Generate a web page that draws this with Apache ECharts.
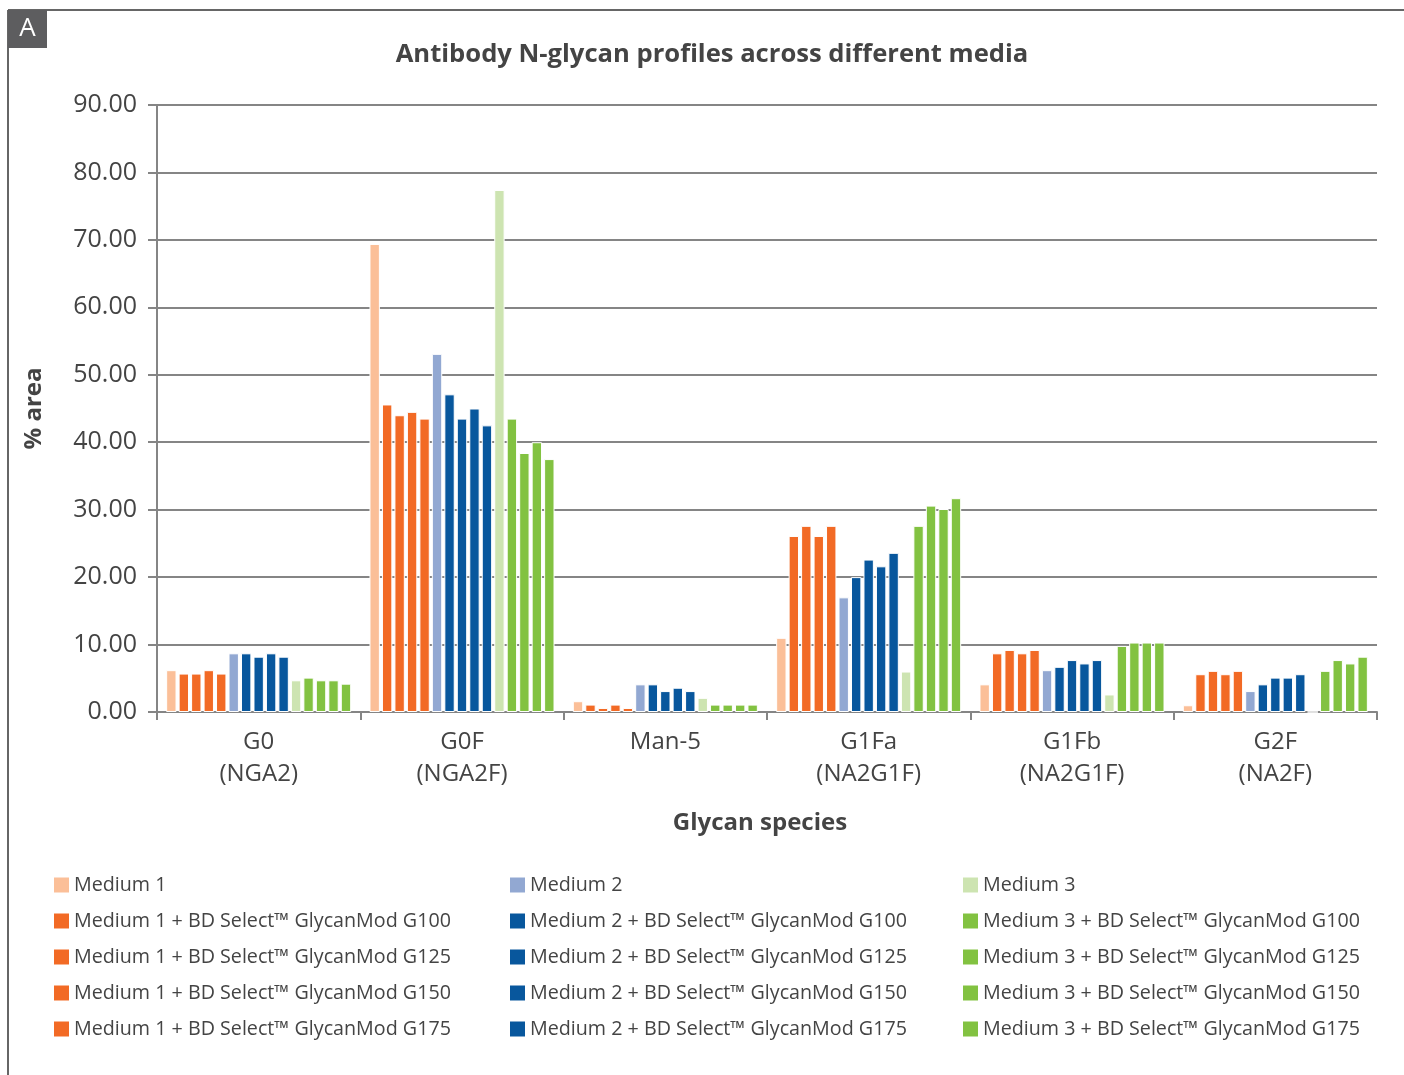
<!DOCTYPE html>
<html>
<head>
<meta charset="utf-8">
<script src="https://cdn.jsdelivr.net/npm/echarts@6/dist/echarts.min.js"></script>
<style>
  html, body { margin: 0; padding: 0; background: #fff; }
  #chart { width: 1404px; height: 1075px; }
</style>
</head>
<body>
<div id="chart"></div>
<script>
// glycan species on the x axis
var categories = ['G0\n(NGA2)', 'G0F\n(NGA2F)', 'Man-5', 'G1Fa\n(NA2G1F)', 'G1Fb\n(NA2G1F)', 'G2F\n(NA2F)'];
var yTicks = [0, 10, 20, 30, 40, 50, 60, 70, 80, 90];

// % area per medium
var medium1 = [6.2, 69.4, 1.6, 11.0, 4.1, 1.0];
var m1G100 = [5.7, 45.6, 1.1, 26.1, 8.7, 5.6];
var m1G125 = [5.7, 44.0, 0.6, 27.6, 9.2, 6.1];
var m1G150 = [6.2, 44.5, 1.1, 26.1, 8.7, 5.6];
var m1G175 = [5.7, 43.5, 0.6, 27.6, 9.2, 6.1];
var medium2 = [8.7, 53.1, 4.1, 17.0, 6.2, 3.1];
var m2G100 = [8.7, 47.1, 4.1, 20.0, 6.7, 4.1];
var m2G125 = [8.2, 43.5, 3.1, 22.6, 7.7, 5.1];
var m2G150 = [8.7, 45.0, 3.6, 21.6, 7.2, 5.1];
var m2G175 = [8.2, 42.5, 3.1, 23.6, 7.7, 5.6];
var medium3 = [4.7, 77.4, 2.1, 6.0, 2.6, 0];
var m3G100 = [5.1, 43.5, 1.1, 27.6, 9.8, 6.1];
var m3G125 = [4.7, 38.4, 1.1, 30.6, 10.3, 7.7];
var m3G150 = [4.7, 40.0, 1.1, 30.1, 10.3, 7.2];
var m3G175 = [4.2, 37.5, 1.1, 31.7, 10.3, 8.2];

var FONT = '"Open Sans", "Noto Sans", sans-serif';
var TXT = '#444';
var GRIDC = '#858585';

var sel = ' + BD Select\u2122 GlycanMod ';
var groups = [
    { base: 'Medium 1', light: '#fbbf98', dark: '#f26a25', data: [medium1, m1G100, m1G125, m1G150, m1G175] },
    { base: 'Medium 2', light: '#92a8d2', dark: '#08579d', data: [medium2, m2G100, m2G125, m2G150, m2G175] },
    { base: 'Medium 3', light: '#cde4b1', dark: '#82c241', data: [medium3, m3G100, m3G125, m3G150, m3G175] }
];
var suffixes = ['', 'G100', 'G125', 'G150', 'G175'];

var series = [];
var legends = [];
var legendLeft = [54, 510, 963];
groups.forEach(function (g, gi) {
    var names = [];
    g.data.forEach(function (vals, i) {
        var name = i === 0 ? g.base : g.base + sel + suffixes[i];
        names.push(name);
        series.push({
            name: name,
            type: 'bar',
            data: vals,
            barGap: '20%',
            barCategoryGap: '9%',
            itemStyle: {
                color: i === 0 ? g.light : g.dark,
                borderColor: '#fff',
                borderWidth: 1
            }
        });
    });
    legends.push({
        data: names,
        orient: 'vertical',
        left: legendLeft[gi],
        top: 874,
        padding: 0,
        itemWidth: 15,
        itemHeight: 15,
        itemGap: 14,
        icon: 'rect',
        selectedMode: false,
        itemStyle: { borderWidth: 0 },
        textStyle: { fontFamily: FONT, fontSize: 19.7, color: TXT, lineHeight: 22 }
    });
});

var chart = echarts.init(document.getElementById('chart'), null, { renderer: 'canvas' });

var option = {
    animation: false,
    backgroundColor: '#fff',
    legend: legends,
    grid: { left: 157, right: 27, top: 105, bottom: 363 },
    xAxis: {
        type: 'category',
        data: categories,
        name: 'Glycan species',
        nameLocation: 'middle',
        nameGap: 99,
        nameTextStyle: { fontFamily: FONT, fontSize: 24, fontWeight: 'bold', color: TXT, padding: [0, 14, 0, 0] },
        axisLine: { lineStyle: { color: GRIDC, width: 2 } },
        axisTick: { show: true, length: 8, lineStyle: { color: GRIDC, width: 2 } },
        axisLabel: { fontFamily: FONT, fontSize: 24, color: TXT, lineHeight: 32, margin: 14 }
    },
    yAxis: {
        type: 'value',
        min: yTicks[0],
        max: yTicks[yTicks.length - 1],
        interval: 10,
        name: '% area',
        nameLocation: 'middle',
        nameRotate: 90,
        nameGap: 105,
        nameTextStyle: { fontFamily: FONT, fontSize: 24, fontWeight: 'bold', color: TXT, padding: [0, 0, 6, 0] },
        axisLine: { show: true, lineStyle: { color: GRIDC, width: 2 } },
        axisTick: { show: true, length: 9, lineStyle: { color: GRIDC, width: 2 } },
        splitLine: { lineStyle: { color: GRIDC, width: 2 } },
        axisLabel: {
            fontFamily: FONT, fontSize: 25, color: TXT, margin: 20,
            formatter: function (v) { return v.toFixed(2); }
        }
    },
    graphic: [
        { type: 'line', shape: { x1: 8, y1: 10, x2: 1404, y2: 10 }, style: { stroke: '#666', lineWidth: 2 } },
        { type: 'line', shape: { x1: 8, y1: 10, x2: 8, y2: 1075 }, style: { stroke: '#666', lineWidth: 2 } },
        { type: 'rect', shape: { x: 8, y: 10, width: 39, height: 38 }, style: { fill: '#5d5d5f' } },
        { type: 'text', x: 27.5, y: 29, style: { text: 'A', fill: '#fff', font: '26px ' + FONT, textAlign: 'center', textVerticalAlign: 'middle' } },
        {
            type: 'text', x: 712, y: 55,
            style: {
                text: 'Antibody N-glycan profiles across different media',
                fill: TXT, font: 'bold 25.6px ' + FONT,
                textAlign: 'center', textVerticalAlign: 'middle'
            }
        }
    ],
    series: series
};

chart.setOption(option);
</script>
</body>
</html>
